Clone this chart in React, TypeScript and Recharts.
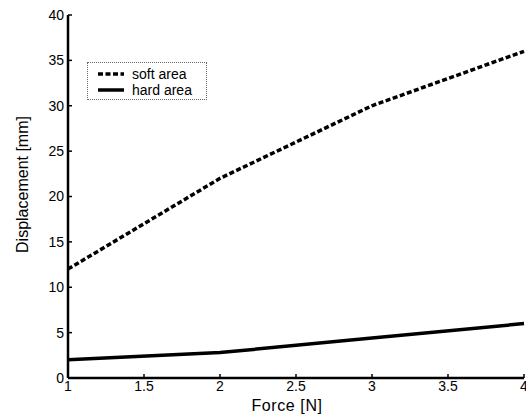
import { LineChart, Line, XAxis, YAxis, Legend, Label } from 'recharts'

// values
const force = [1, 2, 3, 4]
const softArea = [12, 22, 30, 36]
const hardArea = [2, 2.8, 4.4, 6]
const xTicks = [1, 1.5, 2, 2.5, 3, 3.5, 4]
const yTicks = [0, 5, 10, 15, 20, 25, 30, 35, 40]

const data = force.map((f, i) => ({ force: f, soft: softArea[i], hard: hardArea[i] }))

const FONT = '"Liberation Sans", Arial, Helvetica, sans-serif'
const ORDER = ['soft', 'hard']
const DASH: Record<string, string | undefined> = { soft: '5 2.5', hard: undefined }

function LegendBox({ payload }: any) {
  const items = [...(payload || [])].sort(
    (a: any, b: any) => ORDER.indexOf(a.dataKey) - ORDER.indexOf(b.dataKey)
  )
  return (
    <div
      style={{
        width: 120,
        height: 38,
        boxSizing: 'border-box',
        border: '1px dotted #666',
        padding: '3px 0 0 10px',
        fontFamily: FONT,
        fontSize: 14,
        color: '#000',
        lineHeight: '16px',
        background: '#fff',
      }}
    >
      {items.map((entry: any) => (
        <div key={entry.value} style={{ display: 'flex', alignItems: 'center', height: 16 }}>
          <svg width={26} height={6}>
            <line x1={0} y1={3} x2={26} y2={3} stroke="#000" strokeWidth={3.5} strokeDasharray={DASH[entry.dataKey]} />
          </svg>
          <span style={{ marginLeft: 8 }}>{entry.value}</span>
        </div>
      ))}
    </div>
  )
}

const YTitle = ({ viewBox }: any) => {
  const x = viewBox.x + 22
  const y = viewBox.y + viewBox.height / 2 - 12
  return (
    <text x={x} y={y} transform={`rotate(-90, ${x}, ${y})`} textAnchor="middle" dominantBaseline="central"
      fontFamily={FONT} fontSize={16} fill="#000">
      Displacement [mm]
    </text>
  )
}

const XTitle = ({ viewBox }: any) => {
  const x = viewBox.x + viewBox.width / 2 - 9
  return (
    <text x={x} y={405} textAnchor="middle" dominantBaseline="central" fontFamily={FONT} fontSize={16}
      letterSpacing={0.6} fill="#000">
      Force [N]
    </text>
  )
}

export default function App() {
  return (
    <div style={{ position: 'absolute', left: 0, top: 0, background: '#fff' }}>
      <LineChart width={526} height={418} data={data} margin={{ top: 15, right: 2, bottom: 0, left: 0 }}>
        <XAxis
          dataKey="force"
          type="number"
          domain={[1, 4]}
          ticks={xTicks}
          height={40}
          tickSize={-4}
          tickMargin={7}
          axisLine={{ stroke: '#000', strokeWidth: 2.5 }}
          tickLine={{ stroke: '#000', strokeWidth: 1.5 }}
          tick={{ fill: '#000', fontSize: 14, fontFamily: FONT }}
          interval={0}
        >
          <Label content={<XTitle />} />
        </XAxis>
        <YAxis
          type="number"
          domain={[0, 40]}
          ticks={yTicks}
          width={68}
          tickSize={-4}
          tickMargin={8}
          axisLine={{ stroke: '#000', strokeWidth: 2.5 }}
          tickLine={{ stroke: '#000', strokeWidth: 1.5 }}
          tick={{ fill: '#000', fontSize: 14, fontFamily: FONT }}
          interval={0}
        >
          <Label content={<YTitle />} />
        </YAxis>
        <Legend
          verticalAlign="middle"
          align="center"
          content={<LegendBox />}
          wrapperStyle={{ left: 87, top: 62, width: 'auto' }}
        />
        <Line
          type="linear"
          dataKey="soft"
          name="soft area"
          stroke="#000"
          strokeWidth={3.5}
          strokeDasharray={DASH.soft}
          dot={false}
          isAnimationActive={false}
        />
        <Line
          type="linear"
          dataKey="hard"
          name="hard area"
          stroke="#000"
          strokeWidth={3.5}
          dot={false}
          isAnimationActive={false}
        />
      </LineChart>
    </div>
  )
}
